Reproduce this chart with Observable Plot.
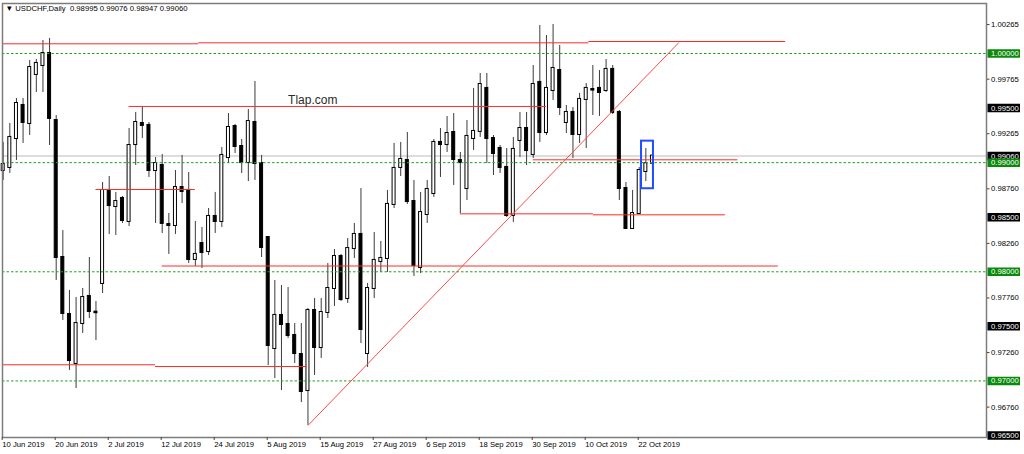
<!DOCTYPE html>
<html><head><meta charset="utf-8">
<script src="https://cdn.jsdelivr.net/npm/d3@7"></script>
<script src="https://cdn.jsdelivr.net/npm/@observablehq/plot@0.6"></script>
<style>
html,body{margin:0;padding:0;background:#fff}
#chart svg{display:block}
</style>
</head><body><div id="chart"></div>
<script>
// ---- Data (USDCHF daily) ----
const dates = [
"06-10","06-11","06-12","06-13","06-14","06-17","06-18","06-19","06-20","06-21",
"06-24","06-25","06-26","06-27","06-28","07-01","07-02","07-03","07-04","07-05",
"07-08","07-09","07-10","07-11","07-12","07-15","07-16","07-17","07-18","07-19",
"07-22","07-23","07-24","07-25","07-26","07-29","07-30","07-31","08-01","08-02",
"08-05","08-06","08-07","08-08","08-09","08-12","08-13","08-14","08-15","08-16",
"08-19","08-20","08-21","08-22","08-23","08-26","08-27","08-28","08-29","08-30",
"09-02","09-03","09-04","09-05","09-06","09-09","09-10","09-11","09-12","09-13",
"09-16","09-17","09-18","09-19","09-20","09-23","09-24","09-25","09-26","09-27",
"09-30","10-01","10-02","10-03","10-04","10-07","10-08","10-09","10-10","10-11",
"10-14","10-15","10-16","10-17","10-18","10-21","10-22","10-23","10-24"
].map(d => "2019-" + d);

const open = [
0.98928,0.98956,0.99221,0.99524,0.99359,0.99808,0.99890,1.00000,0.99386,0.98131,
0.97609,0.97160,0.97526,0.97774,0.97630,0.97893,0.98745,0.98598,0.98672,0.98461,
0.99166,0.99359,0.99341,0.98928,0.98974,0.98433,0.98424,0.98772,0.98745,0.98113,
0.98259,0.98186,0.98507,0.98461,0.99047,0.99331,0.99148,0.99001,0.99368,0.98992,
0.98314,0.97297,0.97600,0.97517,0.97416,0.97242,0.96912,0.97645,0.97306,0.97627,
0.97847,0.98140,0.97755,0.98213,0.98342,0.97251,0.97847,0.98094,0.98122,0.98617,
0.98956,0.99020,0.98644,0.98039,0.98525,0.98717,0.99185,0.99166,0.99276,0.99020,
0.98763,0.99221,0.99286,0.99680,0.99221,0.99130,0.98956,0.98516,0.99203,0.99313,
0.99075,0.99735,0.99276,0.99661,0.99844,0.99368,0.99460,0.99258,0.99579,0.99670,
0.99680,0.99661,0.99854,0.99460,0.98763,0.98397,0.98534,0.98919,0.98995];
const high = [
0.99185,0.99359,0.99588,0.99588,0.99936,0.99945,1.00119,1.00138,0.99432,0.98378,
0.97829,0.97764,0.97847,0.98131,0.97728,0.98818,0.98873,0.98727,0.98690,0.99313,
0.99460,0.99515,0.99368,0.99047,0.99075,0.98534,0.98928,0.99066,0.98910,0.98461,
0.98406,0.98580,0.98727,0.99139,0.99450,0.99350,0.99212,0.99487,0.99744,0.99066,
0.98320,0.97920,0.97874,0.97856,0.97526,0.97526,0.97664,0.97755,0.97755,0.98076,
0.98204,0.98159,0.98305,0.98443,0.98763,0.97893,0.98360,0.98278,0.98745,0.99176,
0.99185,0.99276,0.98837,0.98727,0.98837,0.99212,0.99313,0.99423,0.99450,0.99093,
0.99386,0.99680,0.99817,0.99817,0.99249,0.99157,0.99130,0.99231,0.99460,0.99460,
0.99890,1.00257,1.00165,1.00266,1.00074,0.99524,0.99505,0.99634,0.99725,0.99890,
0.99844,0.99945,0.99890,0.99478,0.98818,0.98745,0.98956,0.99130,0.99076];
const low = [
0.98837,0.98901,0.99020,0.99176,0.99249,0.99643,0.99643,0.99157,0.97920,0.97554,
0.97096,0.96931,0.97435,0.97572,0.97370,0.97801,0.98342,0.98333,0.98443,0.98415,
0.98974,0.99221,0.98864,0.98443,0.98351,0.98159,0.98342,0.98626,0.98076,0.98049,
0.98030,0.98149,0.98351,0.98406,0.98992,0.99084,0.98901,0.98827,0.98837,0.98131,
0.97141,0.97022,0.96912,0.97389,0.97160,0.96802,0.96592,0.97050,0.97206,0.97572,
0.97682,0.97728,0.97710,0.98122,0.97343,0.97123,0.97755,0.97994,0.97994,0.98580,
0.98873,0.98617,0.97957,0.97984,0.98443,0.98681,0.98864,0.99093,0.98791,0.98534,
0.98653,0.99111,0.99231,0.98992,0.98882,0.98901,0.98498,0.98452,0.99047,0.98974,
0.99038,0.99185,0.99249,0.99570,0.99432,0.99267,0.99038,0.99176,0.99130,0.99432,
0.99423,0.99643,0.99441,0.98653,0.98390,0.98388,0.98525,0.98827,0.98947];
const close = [
0.98983,0.99231,0.99542,0.99368,0.99872,0.99909,1.00000,0.99405,0.98131,0.97618,
0.97187,0.97526,0.97764,0.97636,0.97625,0.98745,0.98607,0.98644,0.98470,0.99157,
0.99368,0.99341,0.98928,0.98992,0.98443,0.98424,0.98772,0.98736,0.98113,0.98159,
0.98177,0.98507,0.98461,0.99066,0.99322,0.99148,0.99001,0.99377,0.98992,0.98223,
0.97325,0.97600,0.97517,0.97416,0.97251,0.96903,0.97645,0.97306,0.97627,0.97847,
0.98140,0.97746,0.98213,0.98342,0.97471,0.97847,0.98104,0.98122,0.98617,0.98947,
0.99029,0.98644,0.98058,0.98543,0.98754,0.99185,0.99166,0.99267,0.99029,0.99001,
0.99240,0.99286,0.99716,0.99221,0.99084,0.98956,0.98516,0.99121,0.99313,0.99111,
0.99716,0.99276,0.99680,0.99863,0.99505,0.99460,0.99258,0.99579,0.99680,0.99665,
0.99643,0.99854,0.99460,0.98763,0.98397,0.98534,0.98928,0.98990,0.99060];

// x-axis tick labels
const xTickDates = ["2019-06-10","2019-06-20","2019-07-02","2019-07-12","2019-07-24","2019-08-05",
  "2019-08-15","2019-08-27","2019-09-06","2019-09-18","2019-09-30","2019-10-10","2019-10-22"];
const xTickLabels = ["10 Jun 2019","20 Jun 2019","2 Jul 2019","12 Jul 2019","24 Jul 2019","5 Aug 2019",
  "15 Aug 2019","27 Aug 2019","6 Sep 2019","18 Sep 2019","30 Sep 2019","10 Oct 2019","22 Oct 2019"];

// right-axis price labels
const yTicks = [1.00265, 0.99765, 0.99265, 0.98760, 0.98260, 0.97760, 0.97260, 0.96760];
const roundLevels = [1.00000, 0.99000, 0.98000, 0.97000];   // green dotted levels
const blackLevels = [0.99500, 0.98500, 0.97500, 0.96500];   // black-box labels

// drawn objects (bar index, price)
const hLines = [
  {x1: -5,   x2: 29.5,  y: 1.00089},
  {x1: 29.5, x2: 88.4,  y: 1.00098},
  {x1: 88.4, x2: 118.1, y: 1.00110},
  {x1: 19,   x2: 82,    y: 0.99515},
  {x1: 80,   x2: 110.9, y: 0.99026},
  {x1: 14,   x2: 29,    y: 0.98754},
  {x1: 69,   x2: 89.1,  y: 0.98531},
  {x1: 89.1, x2: 109,   y: 0.98522},
  {x1: 24,   x2: 117,   y: 0.98053},
  {x1: -5,   x2: 23,    y: 0.97148},
  {x1: 23,   x2: 45.9,  y: 0.97132}
];
const trendLine = [{x1: 46, y1: 0.96592, x2: 102, y2: 1.00101}];
const boxObj = [{x1: 96.35, x2: 98.15, y1: 0.98761, y2: 0.99197}];
const watermark = [{x: 43, y: 0.99537, text: "Tlap.com"}];

// ---- Build ----
const candles = dates.map((d, i) => ({i, o: open[i], h: high[i], l: low[i], c: close[i]}));
const bull = candles.filter(d => d.c >= d.o);
const bear = candles.filter(d => d.c < d.o);
const last = candles[candles.length - 1];
const bid = [last.c];
const f5 = d3.format(".5f");
const title = `\u25BC USDCHF,Daily  ${f5(last.o)} ${f5(last.h)} ${f5(last.l)} ${f5(last.c)}`;
const xTicks = xTickDates.map(d => dates.indexOf(d));

const X_MIN = -0.106, X_MAX = 148.42;
const FONT = "Liberation Sans, Arial, sans-serif";
const FS = 7.7;

const chart = Plot.plot({
  width: 1024,
  height: 454,
  marginLeft: 2,
  marginRight: 38,
  marginTop: 3,
  marginBottom: 17,
  style: {fontFamily: FONT, fontSize: FS + "px", background: "#fff", color: "#000"},
  x: {type: "linear", domain: [X_MIN, X_MAX]},
  y: {type: "linear", domain: [0.964817, 1.004582]},
  marks: [
    // bid line
    Plot.ruleY(bid, {stroke: "#d2d2d2", strokeWidth: 1.5}),
    // candles
    Plot.ruleX(candles, {x: "i", y1: "l", y2: "h", stroke: "#3c3c3c", strokeWidth: 1}),
    Plot.rect(bull, {x1: "i", x2: "i", y1: "o", y2: "c", insetLeft: -1.5, insetRight: -1.5,
      insetTop: -0.5, insetBottom: -0.5, fill: "#fff", stroke: "#000", strokeWidth: 1}),
    Plot.rect(bear, {x1: "i", x2: "i", y1: "o", y2: "c", insetLeft: -1.5, insetRight: -1.5,
      insetTop: -0.5, insetBottom: -0.5, fill: "#000", stroke: "#000", strokeWidth: 1}),
    // round-number dotted levels
    Plot.ruleY(roundLevels, {stroke: "#22a022", strokeWidth: 1, strokeDasharray: "2.5,2"}),
    // horizontal lines
    Plot.ruleY(hLines, {y: "y", x1: "x1", x2: "x2", stroke: "#ff2a2a", strokeWidth: 1, clip: true}),
    // trend line
    Plot.link(trendLine, {x1: "x1", y1: "y1", x2: "x2", y2: "y2", stroke: "#ff4a4a", strokeWidth: 1}),
    // highlight box
    Plot.rect(boxObj, {x1: "x1", x2: "x2", y1: "y1", y2: "y2", fill: "none", stroke: "#1f4dff", strokeWidth: 2}),
    // watermark text
    Plot.text(watermark, {x: "x", y: "y", text: "text", textAnchor: "start", lineAnchor: "bottom",
      fontSize: 12, fill: "#2a2a2a", fontFamily: FONT}),
    // title
    Plot.text([title], {frameAnchor: "top-left", dx: 3, dy: 2.5, textAnchor: "start", lineAnchor: "top",
      fontSize: FS, fill: "#000", fontFamily: FONT}),
    // frame
    Plot.frame({stroke: "#7c7c7c", strokeWidth: 1.5}),
    // axes
    Plot.axisX({ticks: xTicks, tickFormat: (d) => xTickLabels[xTicks.indexOf(d)], anchor: "bottom",
      tickSize: 3, tickPadding: 1.5, textAnchor: "start", dx: -1, fontSize: FS, stroke: "#444", fill: "#000", label: null}),
    Plot.axisY({ticks: yTicks, tickFormat: f5, anchor: "right", tickSize: 2.5, tickPadding: 2,
      fontSize: FS, stroke: "#444", fill: "#000", label: null}),
    // price label boxes: bid (black), black levels, green levels
    Plot.ruleY(bid, {x1: X_MAX, x2: X_MAX, insetLeft: 1.5, insetRight: -34, stroke: "#000", strokeWidth: 8.5}),
    Plot.text(bid, {y: d => d, x: X_MAX, text: d => f5(d), dx: 4.5, textAnchor: "start", fill: "#fff", fontSize: FS}),
    Plot.ruleY(blackLevels, {x1: X_MAX, x2: X_MAX, insetLeft: 1.5, insetRight: -34, stroke: "#000", strokeWidth: 8.5}),
    Plot.text(blackLevels, {y: d => d, x: X_MAX, text: d => f5(d), dx: 4.5, textAnchor: "start", fill: "#fff", fontSize: FS}),
    Plot.ruleY(roundLevels, {x1: X_MAX, x2: X_MAX, insetLeft: 1.5, insetRight: -34, stroke: "#0a8a0a", strokeWidth: 8.5}),
    Plot.text(roundLevels, {y: d => d, x: X_MAX, text: d => f5(d), dx: 4.5, textAnchor: "start", fill: "#fff", fontSize: FS})
  ]
});
document.getElementById("chart").appendChild(chart);
</script>
</body></html>
